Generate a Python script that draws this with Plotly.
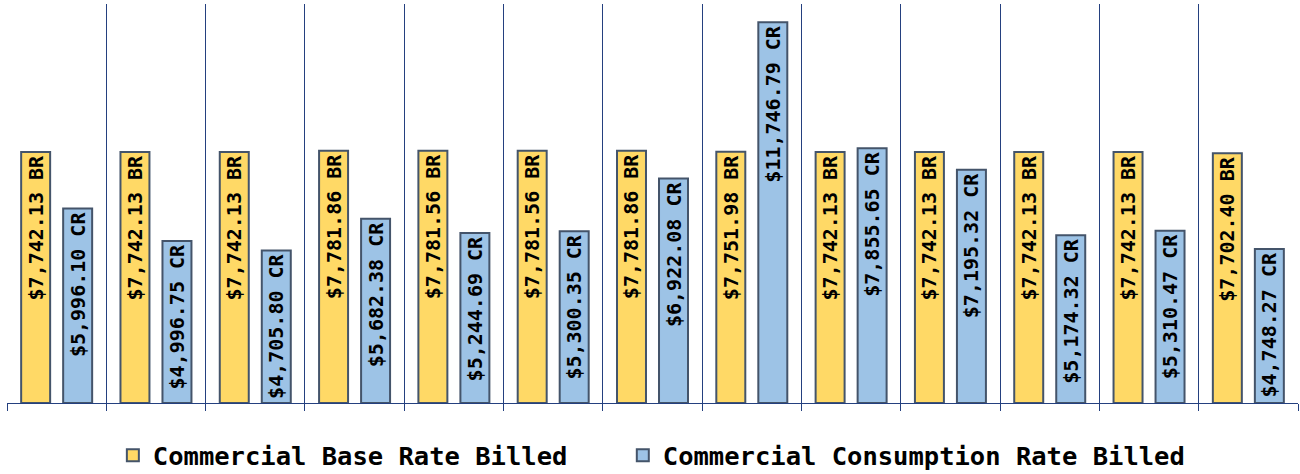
import plotly.graph_objects as go

periods = [f"P{i+1}" for i in range(13)]
base_rate = [7742.13, 7742.13, 7742.13, 7781.86, 7781.56, 7781.56, 7781.86,
             7751.98, 7742.13, 7742.13, 7742.13, 7742.13, 7702.40]
consumption_rate = [5996.10, 4996.75, 4705.80, 5682.38, 5244.69, 5300.35, 6922.08,
                    11746.79, 7855.65, 7195.32, 5174.32, 5310.47, 4748.27]
series_names = ["Commercial Base Rate Billed", "Commercial Consumption Rate Billed"]
suffixes = ["BR", "CR"]

x = list(range(len(periods)))
font_family = "DejaVu Sans Mono"

fig = go.Figure()
for vals, name, suf, color, lg in [
    (base_rate, series_names[0], suffixes[0], "#FFD966", "legend"),
    (consumption_rate, series_names[1], suffixes[1], "#9DC3E6", "legend2"),
]:
    fig.add_trace(go.Bar(
        x=x, y=vals, name=name, legend=lg,
        customdata=periods,
        marker=dict(color=color, line=dict(color="#44546A", width=2)),
        texttemplate="$%{y:,.2f} " + suf,
        textposition="inside",
        insidetextanchor="end",
        textangle=-90,
        constraintext="none",
        textfont=dict(family=font_family, size=20, color="black", weight="bold"),
        hovertemplate="%{customdata}: $%{y:,.2f}<extra>" + name + "</extra>",
    ))

legend_font = dict(family=font_family, size=25.5, color="black", weight="bold")
fig.update_layout(
    width=1300, height=474,
    margin=dict(l=7, r=2, t=4, b=71, autoexpand=False),
    paper_bgcolor="white", plot_bgcolor="white",
    barmode="group", bargap=0.154, bargroupgap=0.31,
    showlegend=True,
    legend=dict(orientation="h", x=0.082, xanchor="left", y=-0.132, yanchor="middle",
                font=legend_font, bgcolor="rgba(0,0,0,0)"),
    legend2=dict(orientation="h", x=0.477, xanchor="left", y=-0.132, yanchor="middle",
                 font=legend_font, bgcolor="rgba(0,0,0,0)"),
    xaxis=dict(
        range=[-0.5, len(periods) - 0.5],
        tickvals=[i - 0.5 for i in range(len(periods) + 1)],
        showticklabels=False,
        showgrid=True, gridcolor="#24407F", gridwidth=1,
        ticks="outside", ticklen=7, tickcolor="#24407F", tickwidth=1,
        showline=True, linecolor="#24407F", linewidth=1,
        zeroline=False,
    ),
    yaxis=dict(range=[0, 12307], visible=False, showgrid=False, zeroline=False),
)

fig.write_html("out.html", config={"displayModeBar": False},
               post_script="document.body.style.margin='0';")
